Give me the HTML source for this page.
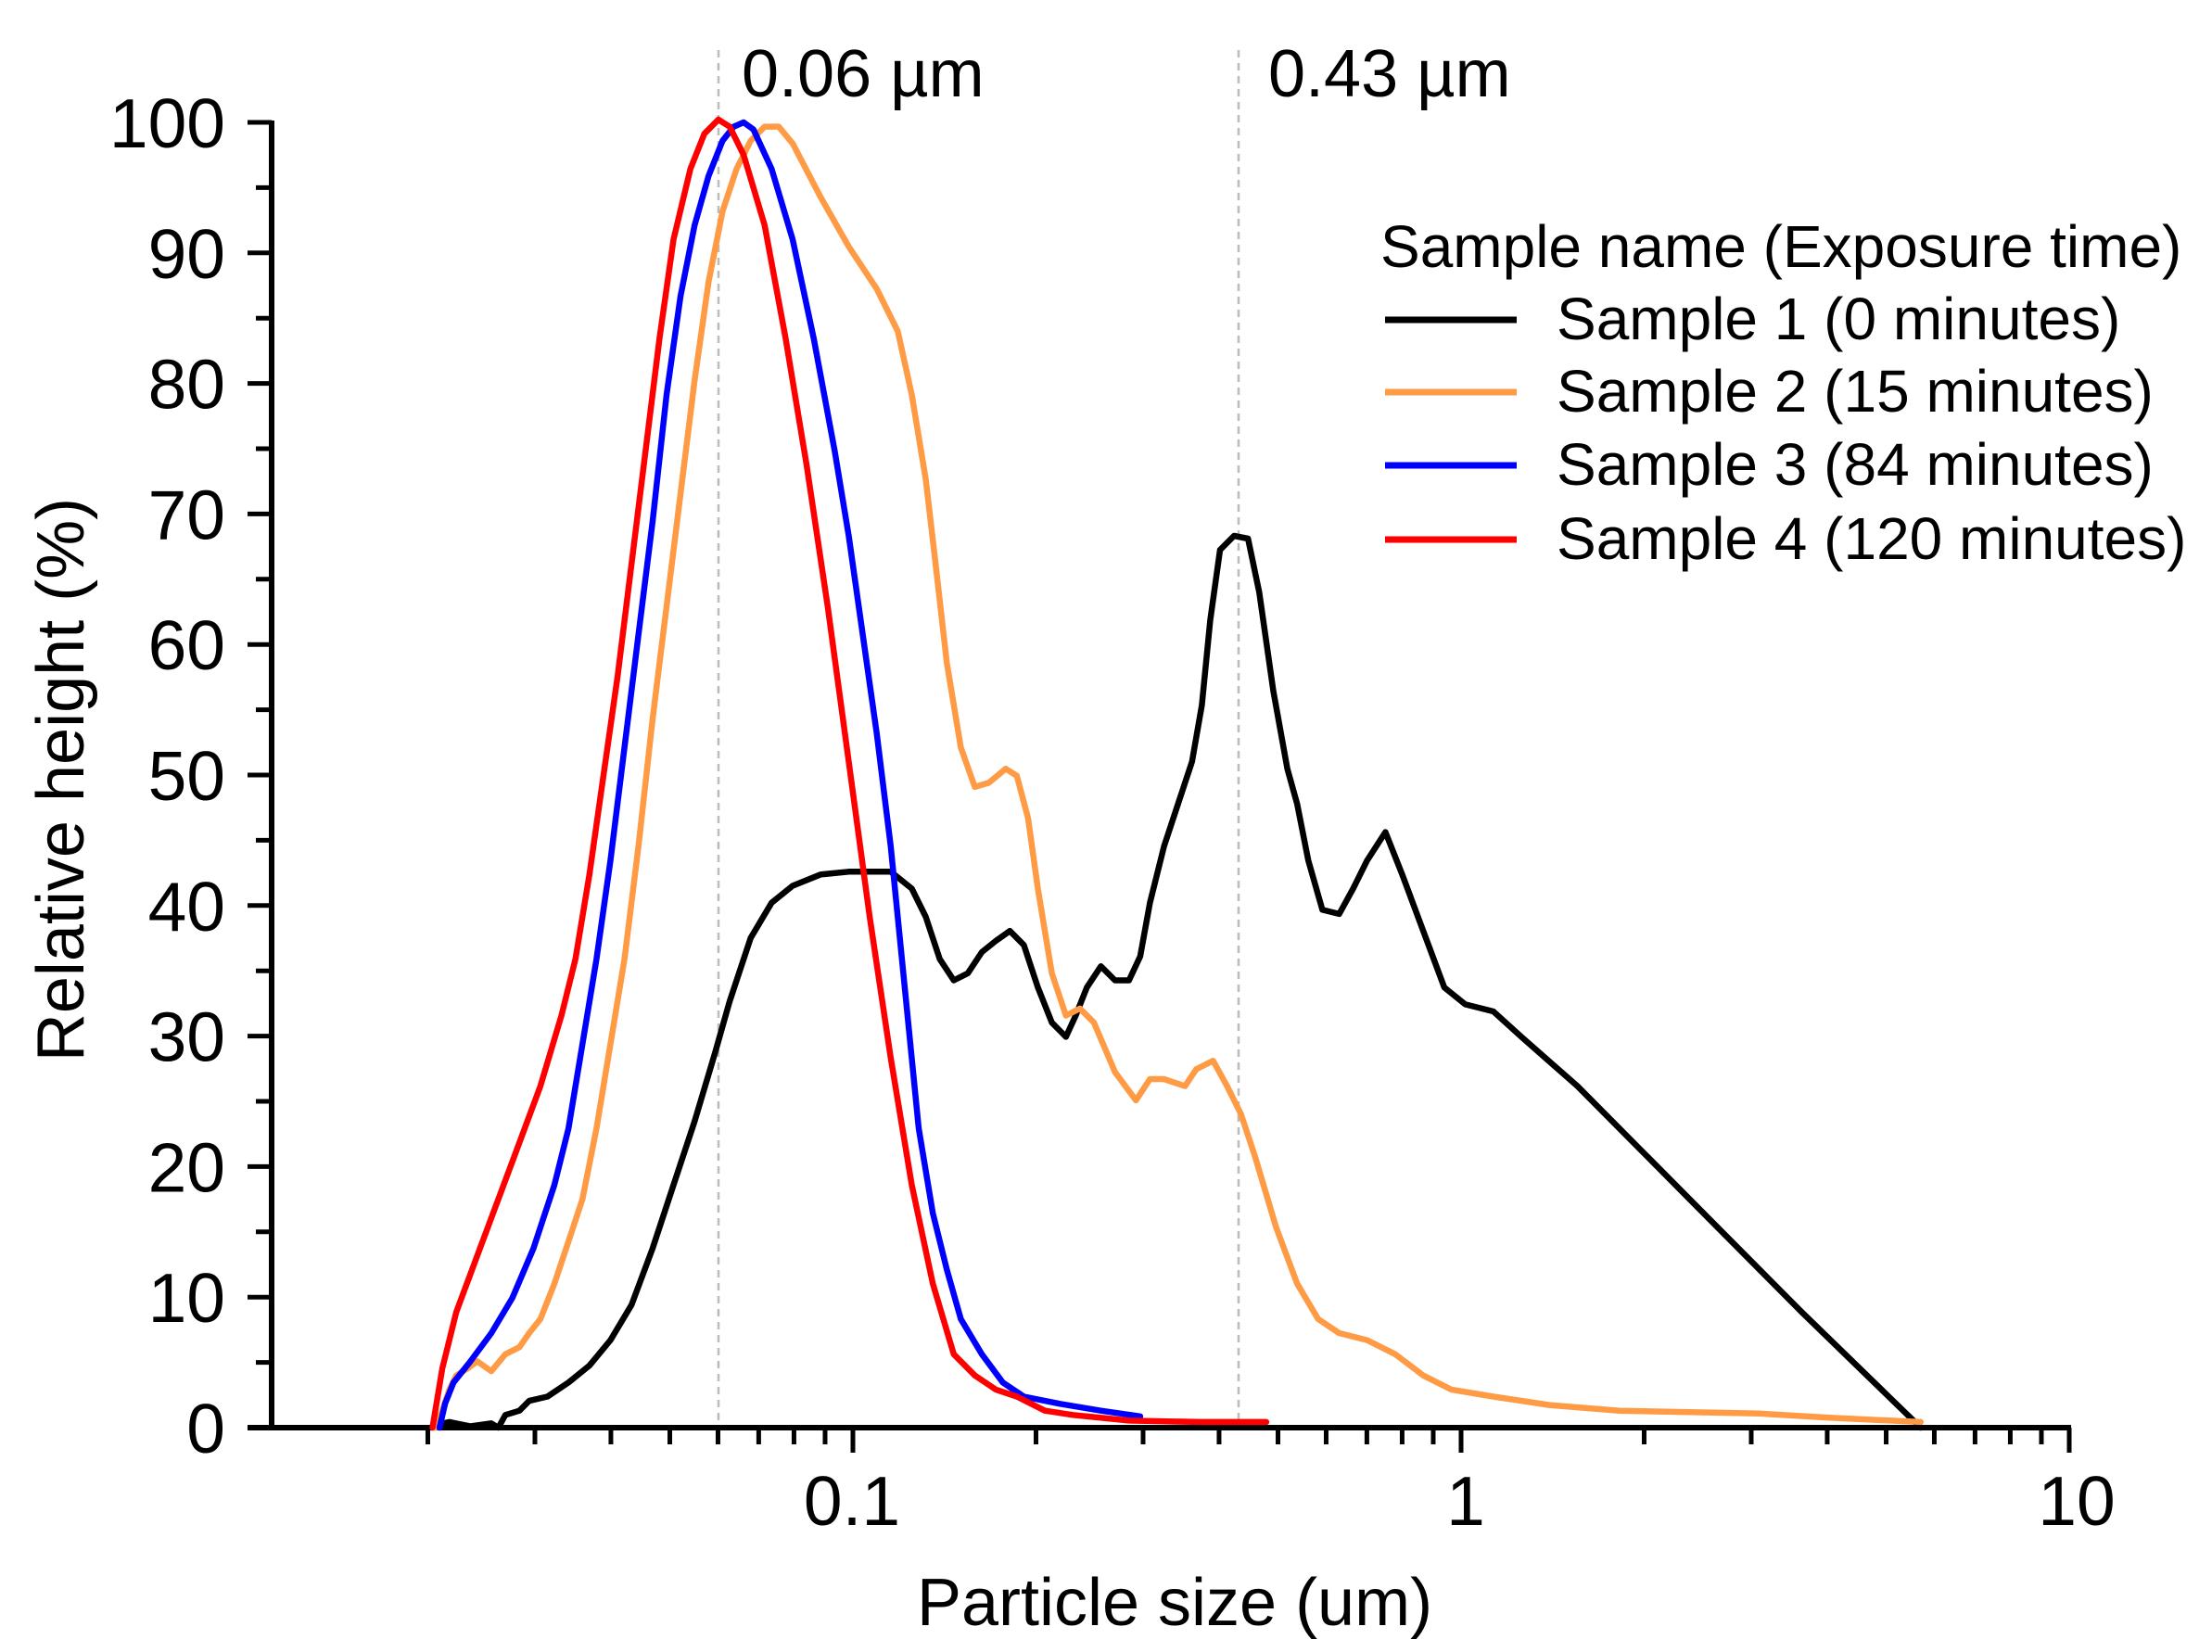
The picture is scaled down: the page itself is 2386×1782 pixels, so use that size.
<!DOCTYPE html>
<html><head><meta charset="utf-8"><style>
html,body{margin:0;padding:0;background:#fff;}
svg{display:block;}
text{font-family:"Liberation Sans",Arial,sans-serif;fill:#000;}
</style></head><body>
<svg id="s" width="2386" height="1782" viewBox="0 0 2386 1782" xmlns="http://www.w3.org/2000/svg">
<g id="ticks" stroke="#000" stroke-width="5"></g>
<line x1="775" y1="54" x2="775" y2="1540" stroke="#bbb" stroke-width="2.5" stroke-dasharray="8,6"/>
<line x1="1336" y1="54" x2="1336" y2="1540" stroke="#bbb" stroke-width="2.5" stroke-dasharray="8,6"/>
<text x="800" y="104" font-size="72">0.06 µm</text>
<text x="1368" y="104" font-size="72">0.43 µm</text>
<line x1="293" y1="130" x2="293" y2="1542" stroke="#000" stroke-width="6"/>
<line x1="267" y1="1540" x2="2234" y2="1540" stroke="#000" stroke-width="6"/>
<g id="ylab" font-size="75" text-anchor="end"></g>
<g font-size="75" text-anchor="middle">
<text x="919" y="1645">0.1</text>
<text x="1581" y="1645">1</text>
<text x="2240" y="1645">10</text>
</g>
<text x="1267" y="1753" font-size="72" text-anchor="middle">Particle size (um)</text>
<text transform="translate(90,841) rotate(-90)" font-size="72" text-anchor="middle">Relative height (%)</text>
<g id="curves" fill="none" stroke-width="6.5" stroke-linejoin="round" stroke-linecap="round"></g>
<text x="1489" y="288" font-size="64">Sample name (Exposure time)</text>
<line x1="1494" y1="345" x2="1636" y2="345" stroke="#000" stroke-width="7"/>
<line x1="1494" y1="423" x2="1636" y2="423" stroke="#ff9a45" stroke-width="7"/>
<line x1="1494" y1="502" x2="1636" y2="502" stroke="#0000ff" stroke-width="7"/>
<line x1="1494" y1="582" x2="1636" y2="582" stroke="#ff0000" stroke-width="7"/>
<g font-size="64">
<text x="1679" y="366">Sample 1 (0 minutes)</text>
<text x="1679" y="444">Sample 2 (15 minutes)</text>
<text x="1679" y="523">Sample 3 (84 minutes)</text>
<text x="1679" y="603">Sample 4 (120 minutes)</text>
</g>
</svg>
<script>
var NS="http://www.w3.org/2000/svg";
function el(p,t,a){var e=document.createElementNS(NS,t);for(var k in a)e.setAttribute(k,a[k]);p.appendChild(e);return e;}
var tk=document.getElementById('ticks'),yl=document.getElementById('ylab');
for(var v=0;v<=100;v+=5){var y=1540-14.08*v;var maj=v%10==0;
 el(tk,'line',{x1:maj?267:276,y1:y,x2:293,y2:y});
 if(maj){var t=el(yl,'text',{x:243,y:y+27});t.textContent=v;}}
for(var d=-2;d<=0;d++)for(var m=1;m<=10;m++){var val=m*Math.pow(10,d);if(val<0.019)continue;
 var x=1576+656*Math.log10(val);var maj=(m==1||m==10);
 el(tk,'line',{x1:x,y1:1540,x2:x,y2:maj?1567:1558});}
function P(a){var s='';for(var i=0;i<a.length;i+=2){var lv=(a[i]-1037)/434;var X=1576+656*lv;var val=(1012-a[i+1])/9.25;var Y=1540-14.08*val;s+=(i?'L':'M')+X.toFixed(1)+','+Y.toFixed(1);}return s;}
var black=[305,1010,315,1008,330,1011,345,1009,350,1012,355,1003,365,1000,372,993,385,990,400,980,415,968,430,950,445,925,460,885,475,840,490,795,505,745,515,710,530,665,545,640,560,628,580,620,600,618,630,618,645,630,655,650,665,680,675,695,685,690,695,675,705,667,715,660,725,670,735,700,745,725,755,735,762,720,770,700,780,685,790,695,800,695,808,678,815,640,825,600,835,570,845,540,852,500,858,440,865,390,875,380,885,382,893,420,903,490,913,545,920,570,928,610,938,645,950,648,960,630,970,610,983,590,995,620,1010,660,1025,700,1040,712,1060,717,1080,735,1120,770,1200,850,1280,930,1365,1012];
var orange=[305,1012,310,1000,315,985,320,975,328,970,335,965,345,972,355,960,365,955,372,945,380,935,390,910,400,880,410,850,420,800,430,740,440,680,450,600,460,510,470,430,480,350,490,270,500,200,510,150,520,120,530,100,540,90,550,90,560,102,580,140,600,175,620,205,635,235,645,280,655,340,662,400,670,470,680,530,690,558,700,555,712,545,720,550,728,580,735,630,745,690,755,720,765,715,775,725,790,760,805,780,815,765,825,765,840,770,848,758,860,752,870,770,880,790,890,820,905,870,920,910,935,935,950,945,970,950,990,960,1010,975,1030,985,1060,990,1100,996,1150,1000,1250,1002,1300,1005,1365,1008];
var blue=[308,1012,312,995,318,980,330,965,345,945,360,920,375,885,390,840,400,800,410,740,420,680,430,610,440,530,450,450,460,370,470,280,480,210,490,160,500,125,510,100,518,90,525,87,532,92,545,120,560,170,575,240,590,320,600,380,610,450,620,520,630,600,640,700,650,800,660,860,670,900,680,935,695,960,710,980,725,990,750,995,780,1000,808,1004];
var red=[303,1012,310,970,320,930,335,890,350,850,365,810,380,770,395,720,405,680,415,620,425,550,435,480,445,400,455,320,465,240,475,170,487,120,497,95,507,85,515,90,525,110,540,160,555,240,570,330,585,430,600,540,615,650,630,750,645,840,660,910,675,960,690,975,705,985,720,990,740,1000,760,1003,800,1007,850,1008,898,1008];
var c=document.getElementById('curves');
el(c,'path',{d:P(black),stroke:'#000'});
el(c,'path',{d:P(orange),stroke:'#ff9a45'});
el(c,'path',{d:P(blue),stroke:'#0000ff'});
el(c,'path',{d:P(red),stroke:'#ff0000'});
</script>
</body></html>
